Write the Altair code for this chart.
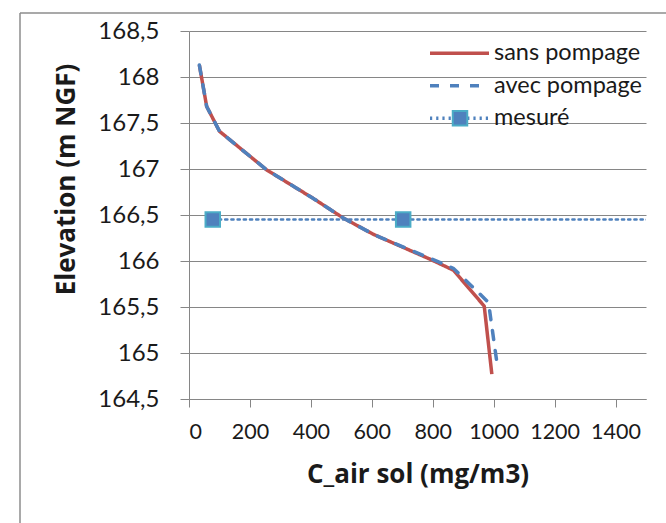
import altair as alt
import pandas as pd

# ---- data ----
series_names = ["sans pompage", "avec pompage", "mesuré"]
series_colors = ["#C0504D", "#4F81BD", "#4F81BD"]

sans_x = [34, 58, 100, 255, 408, 505, 605, 791, 868, 969, 994]
sans_y = [168.13, 167.68, 167.41, 166.99, 166.68, 166.47, 166.29, 166.02, 165.90, 165.51, 164.77]

avec_x = [34, 58, 100, 255, 408, 505, 605, 791, 868, 983, 1010]
avec_y = [168.13, 167.68, 167.41, 166.99, 166.68, 166.47, 166.29, 166.03, 165.92, 165.55, 164.91]

mesure_x = [78, 703, 1650]
mesure_y = [166.45, 166.45, 166.45]

y_ticks = [164.5, 165, 165.5, 166, 166.5, 167, 167.5, 168, 168.5]
x_ticks = [0, 200, 400, 600, 800, 1000, 1200, 1400]

rows = []
for name, xs, ys in [(series_names[0], sans_x, sans_y),
                     (series_names[1], avec_x, avec_y),
                     (series_names[2], mesure_x, mesure_y)]:
    for i, (a, b) in enumerate(zip(xs, ys)):
        rows.append({"series": name, "x": a, "y": b, "idx": i})
df = pd.DataFrame(rows)
legend_df = pd.DataFrame({"series": series_names, "rank": [0, 1, 2]})

GRID = "#868686"
FONT = "Lato"
TFONT = "Open Sans"

color = alt.Color("series:N", scale=alt.Scale(domain=series_names, range=series_colors), legend=None)
dash = alt.StrokeDash("series:N",
                      scale=alt.Scale(domain=series_names, range=[[1, 0], [9, 11], [2.2, 4]]),
                      legend=None)

xenc = alt.X("x:Q", scale=alt.Scale(domain=[0, 1500], nice=False),
             axis=alt.Axis(values=x_ticks, format="d", grid=False, tickSize=8, tickColor=GRID,
                           domainColor=GRID, labelFontSize=21.5, labelColor="#1a1a1a",
                           labelFont=FONT, labelPadding=14, title="C_air sol (mg/m3)",
                           titleFont=TFONT, titleFontSize=26, titleFontWeight="bold",
                           titleColor="#1a1a1a", titleBaseline="top", titleY=62))
yenc = alt.Y("y:Q", scale=alt.Scale(domain=[164.5, 168.5], nice=False, zero=False),
             axis=alt.Axis(values=y_ticks, grid=True, gridColor=GRID, tickSize=9,
                           tickColor=GRID, domainColor=GRID, labelFontSize=24,
                           labelColor="#1a1a1a", labelFont=FONT, labelPadding=21,
                           labelExpr="replace(format(datum.value, ''), '.', ',')",
                           title="Elevation (m NGF)", titleFont=TFONT, titleFontSize=26,
                           titleFontWeight="bold", titleColor="#1a1a1a",
                           titleBaseline="top", titleX=-136, titleY=148))

base = alt.Chart(df)

mes_line = base.transform_filter(alt.datum.series == "mesuré").mark_line(
    strokeWidth=2.5, clip=True, strokeCap="round").encode(
    x=xenc, y=yenc, order="idx:Q", color=color, strokeDash=dash)
mes_pts = base.transform_filter(alt.datum.series == "mesuré").mark_square(
    size=210, opacity=1, filled=True, color="#4F81BD", stroke="#4BACC6",
    strokeWidth=2, clip=True).encode(x=xenc, y=yenc)
sans_line = base.transform_filter(alt.datum.series == "sans pompage").mark_line(
    strokeWidth=3.5, strokeJoin="round").encode(
    x=xenc, y=yenc, order="idx:Q", color=color, strokeDash=dash)
avec_line = base.transform_filter(alt.datum.series == "avec pompage").mark_line(
    strokeWidth=3.5, strokeCap="round").encode(
    x=xenc, y=yenc, order="idx:Q", color=color, strokeDash=dash)

main = alt.layer(mes_line, mes_pts, sans_line, avec_line)

# ---- legend (inside plot, top right) ----
ly = alt.Y("rank:Q", scale=alt.Scale(domain=[0, 2], range=[22.3, 87.3], nice=False, zero=False), axis=None)
lbase = alt.Chart(legend_df)
leg_lines = lbase.mark_rule(strokeWidth=3.5).encode(
    y=ly, x=alt.value(241), x2=alt.value(300), color=color, strokeDash=dash)
leg_sq = lbase.transform_filter(alt.datum.series == "mesuré").mark_square(
    size=210, opacity=1, filled=True, color="#4F81BD", stroke="#4BACC6",
    strokeWidth=2).encode(y=ly, x=alt.value(271))
leg_text = lbase.mark_text(align="left", baseline="alphabetic", dy=6.7, font=FONT,
                           fontSize=23.5, color="#1a1a1a").encode(
    y=ly, x=alt.value(305), text="series:N")
legend = alt.layer(leg_lines, leg_sq, leg_text)

# ---- chart frame ----
frame_df = pd.DataFrame({"k": [0]})
frame_left = alt.Chart(frame_df).mark_rule(color="#8c8c8c", strokeWidth=1.5, clip=False).encode(
    x=alt.value(-169), y=alt.value(-18), y2=alt.value(600))
frame_top = alt.Chart(frame_df).mark_rule(color="#8c8c8c", strokeWidth=1.5, clip=False).encode(
    y=alt.value(-18), x=alt.value(-169), x2=alt.value(700))
frame = alt.layer(frame_left, frame_top)

chart = alt.layer(main, legend, frame).resolve_scale(y="independent").properties(
    width=457, height=368,
    autosize=alt.AutoSizeParams(type="none"),
    padding={"left": 189, "top": 31, "right": 20, "bottom": 124},
    background="white",
).configure_view(stroke=None)

chart.save("out.html", embed_options={"renderer": "svg", "actions": False})
